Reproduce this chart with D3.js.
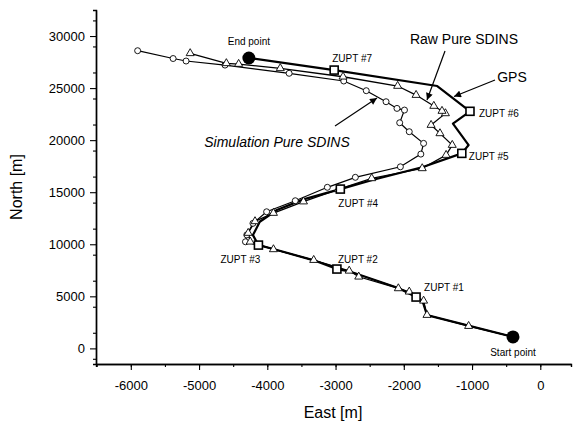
<!DOCTYPE html>
<html><head><meta charset="utf-8">
<script src="https://cdn.jsdelivr.net/npm/d3@7"></script>
<style>body{margin:0;background:#fff}svg{display:block;font-family:"Liberation Sans",Arial,sans-serif}</style>
</head><body><svg id="c" width="573" height="430"></svg>
<script>
// East [m], North [m]
const gpsEast  = [-400,-1660,-1720,-1820,-2080,-2790,-2980,-3330,-3910,-4130,-4210,-4110,-3860,-3470,-2930,-2460,-1720,-1150,-1050,-1280,-1030,-1510,-3020,-4270];
const gpsNorth = [1100,3200,4450,4930,5800,7380,7620,8480,9540,9920,10880,12160,13290,14310,15300,16170,17420,18730,19530,21590,22770,25200,26730,27890];

const rawEast  = [-400,-1050,-1660,-1710,-1920,-2080,-2660,-2800,-3320,-3910,-4250,-4280,-4180,-3910,-3470,-2960,-2470,-1730,-1380,-1290,-1470,-1600,-1390,-1440,-1560,-1820,-2090,-2890,-3810,-4420,-4600,-5130];
const rawNorth = [1100,2140,3200,4570,5440,5760,6880,7450,8480,9510,10240,11080,12200,13000,14100,15270,16330,17290,18570,19530,20650,21450,22570,22800,23280,24330,25200,26090,26900,27310,27380,28340];

const simEast  = [-400,-1660,-1720,-1820,-2080,-2790,-3330,-3910,-4320,-4300,-4210,-4010,-3590,-3120,-2710,-2050,-1750,-1710,-1920,-2060,-1990,-2100,-2260,-2550,-2880,-3680,-4620,-5190,-5380,-5900];
const simNorth = [1100,3200,4450,4930,5800,7380,8480,9540,10240,10900,12010,13120,14180,15470,16430,17440,18660,19690,20810,21670,22890,23050,23690,24750,25680,26420,27210,27600,27840,28590];
const simMarkerFrom = 8;

const zuptLabels = ["ZUPT #1","ZUPT #2","ZUPT #3","ZUPT #4","ZUPT #5","ZUPT #6","ZUPT #7"];
const zuptEast   = [-1820,-2980,-4130,-2930,-1150,-1030,-3020];
const zuptNorth  = [4930,7620,9920,15300,18730,22770,26730];

const endPoints = [{name:"Start point", e:-400, n:1100},{name:"End point", e:-4270, n:27890}];

const xTicks = [-6000,-5000,-4000,-3000,-2000,-1000,0];
const yTicks = [0,5000,10000,15000,20000,25000,30000];

const svg = d3.select("#c");
const x = d3.scaleLinear().domain([-6510,450]).range([96,571]);
const y = d3.scaleLinear().domain([-1500,32500]).range([364,10]);

// axes
const fmt = d => String(d);
const xMinor = d3.range(-6500,500,500);
const yMinor = d3.range(-1000,32500,2500);
const gx = svg.append("g").attr("transform","translate(0,364)");
gx.call(d3.axisBottom(x).tickValues(xMinor).tickSize(3).tickFormat(""));
gx.append("g").call(d3.axisBottom(x).tickValues(xTicks).tickSize(6).tickSizeOuter(0).tickPadding(11).tickFormat(fmt));
const gy = svg.append("g").attr("transform","translate(96,0)");
gy.call(d3.axisLeft(y).tickValues(yMinor).tickSize(3).tickFormat(""));
gy.append("g").call(d3.axisLeft(y).tickValues(yTicks).tickSize(6).tickSizeOuter(0).tickPadding(5).tickFormat(fmt));
svg.selectAll(".domain").attr("stroke","#000").attr("stroke-width",1.4);
svg.selectAll(".tick line").attr("stroke","#000").attr("stroke-width",1.1);
svg.selectAll(".tick text").attr("font-size",13).attr("fill","#000").attr("font-family","Liberation Sans, Arial, sans-serif");

svg.append("text").attr("x",333).attr("y",418).attr("text-anchor","middle").attr("font-size",16).text("East [m]");
svg.append("text").attr("transform","translate(22,187) rotate(-90)").attr("text-anchor","middle").attr("font-size",16).text("North [m]");

const line = d3.line().x(d=>x(d[0])).y(d=>y(d[1]));
const zip = (a,b)=>a.map((v,i)=>[v,b[i]]);
const simPts = zip(simEast,simNorth), rawPts = zip(rawEast,rawNorth), gpsPts = zip(gpsEast,gpsNorth);

svg.append("path").attr("d",line(simPts)).attr("fill","none").attr("stroke","#000").attr("stroke-width",1.2);
svg.append("path").attr("d",line(rawPts)).attr("fill","none").attr("stroke","#000").attr("stroke-width",1.3);
svg.append("path").attr("d",line(gpsPts)).attr("fill","none").attr("stroke","#000").attr("stroke-width",2.2).attr("stroke-linejoin","round");

// markers
svg.append("g").selectAll("circle").data(simPts.slice(simMarkerFrom)).join("circle")
  .attr("cx",d=>x(d[0])).attr("cy",d=>y(d[1])).attr("r",3).attr("fill","#fff").attr("stroke","#000").attr("stroke-width",0.9);
const tri = d3.symbol().type(d3.symbolTriangle).size(28);
svg.append("g").selectAll("path").data(rawPts.slice(1)).join("path")
  .attr("d",tri).attr("transform",d=>`translate(${x(d[0])},${y(d[1])})`).attr("fill","#fff").attr("stroke","#000").attr("stroke-width",0.9);

const zupt = zuptLabels.map((l,i)=>({l, e:zuptEast[i], n:zuptNorth[i]}));
svg.append("g").selectAll("rect").data(zupt).join("rect")
  .attr("x",d=>x(d.e)-4).attr("y",d=>y(d.n)-4).attr("width",8).attr("height",8)
  .attr("fill","#fff").attr("stroke","#000").attr("stroke-width",1.6);
const zOff = [[8,-10],[1,-10],[-38,14],[-2,14],[7,3],[9,2],[-2,-12]];
svg.append("g").selectAll("text").data(zupt).join("text")
  .attr("x",(d,i)=>x(d.e)+zOff[i][0]).attr("y",(d,i)=>y(d.n)+zOff[i][1]).attr("dy","0.35em")
  .attr("font-size",10).text(d=>d.l);

svg.append("g").selectAll("circle").data(endPoints).join("circle")
  .attr("cx",d=>x(d.e)).attr("cy",d=>y(d.n)).attr("r",6.5).attr("fill","#000");
svg.append("g").selectAll("text").data(endPoints).join("text")
  .attr("x",d=>x(d.e)).attr("y",(d,i)=>y(d.n)+(i===0?16:-16)).attr("dy","0.35em").attr("text-anchor","middle")
  .attr("font-size",10).text(d=>d.name);

// annotations with arrows
const defs = svg.append("defs");
defs.append("marker").attr("id","ah").attr("viewBox","0 0 10 10").attr("refX",10).attr("refY",5)
  .attr("markerWidth",9).attr("markerHeight",7).attr("markerUnits","userSpaceOnUse").attr("orient","auto")
  .append("path").attr("d","M0,0 L10,5 L0,10 Z").attr("fill","#000");
const ann = [
  {t:"Raw Pure SDINS", tx:464, ty:44, italic:false, x1:445, y1:51, x2:427, y2:100},
  {t:"GPS", tx:512, ty:82, italic:false, x1:495, y1:80, x2:454, y2:96.5},
  {t:"Simulation Pure SDINS", tx:277, ty:147, italic:true, x1:335, y1:126, x2:377, y2:98}
];
ann.forEach(a=>{
  svg.append("line").attr("x1",a.x1).attr("y1",a.y1).attr("x2",a.x2).attr("y2",a.y2)
    .attr("stroke","#000").attr("stroke-width",1.2).attr("marker-end","url(#ah)");
  svg.append("text").attr("x",a.tx).attr("y",a.ty).attr("text-anchor","middle").attr("font-size",14)
    .attr("font-style",a.italic?"italic":"normal").text(a.t);
});
</script></body></html>
